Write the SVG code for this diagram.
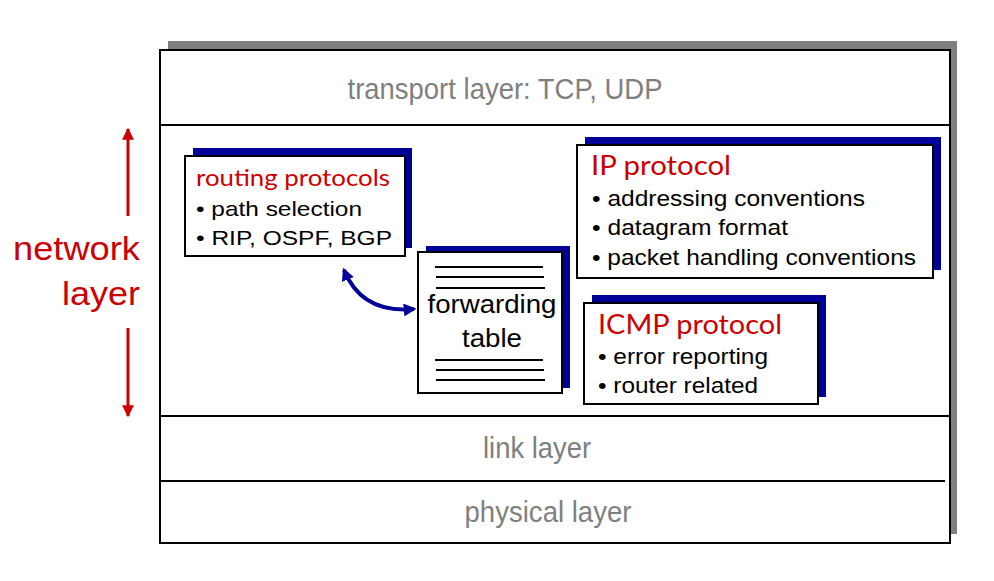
<svg xmlns="http://www.w3.org/2000/svg" width="994" height="581" viewBox="0 0 994 581">
<defs>
<style>
.layer{font-family:"Liberation Sans",Arial,sans-serif;font-size:29px;fill:#7f7f7f;text-anchor:middle}
.box{fill:#fff;stroke:#000;stroke-width:2}
.shadow{fill:#000099}
.title{font-family:Lato,"Open Sans",sans-serif;fill:#cc0000}
.body{font-family:"Liberation Sans",Arial,sans-serif;fill:#000}
.tline{stroke:#000;stroke-width:2}
.sep{stroke:#000;stroke-width:2}
</style>
<marker id="redHead" viewBox="0 0 10 10" refX="9" refY="5" markerWidth="4" markerHeight="4" orient="auto-start-reverse" markerUnits="strokeWidth">
<path d="M0,0 L10,5 L0,10 z" fill="#cc0000"/>
</marker>
<marker id="blueHead" viewBox="0 0 10 10" refX="8" refY="5" markerWidth="3.2" markerHeight="3.2" orient="auto-start-reverse" markerUnits="strokeWidth">
<path d="M0,0 L10,5 L0,10 z" fill="#000099"/>
</marker>
</defs>
<rect width="994" height="581" fill="#fff"/>

<g id="stack">
<rect x="168" y="41" width="789" height="493" fill="#808080"/>
<rect x="160" y="50" width="790" height="493" fill="#fff" stroke="#000" stroke-width="2"/>
<line class="sep" x1="160" y1="125" x2="950" y2="125"/>
<line class="sep" x1="160" y1="416" x2="950" y2="416"/>
<line class="sep" x1="160" y1="481" x2="945" y2="481"/>
</g>

<g id="transport">
<text class="layer" x="505" y="99" textLength="315" lengthAdjust="spacingAndGlyphs">transport layer: TCP, UDP</text>
</g>
<g id="link">
<text class="layer" x="537" y="458" textLength="108" lengthAdjust="spacingAndGlyphs">link layer</text>
</g>
<g id="physical">
<text class="layer" x="548" y="522" textLength="167" lengthAdjust="spacingAndGlyphs">physical layer</text>
</g>

<g id="network-label">
<text x="140" y="260" font-family="Liberation Sans,Arial,sans-serif" font-size="34" fill="#cc0000" text-anchor="end" textLength="127" lengthAdjust="spacingAndGlyphs">network</text>
<text x="140" y="305" font-family="Liberation Sans,Arial,sans-serif" font-size="34" fill="#cc0000" text-anchor="end" textLength="78" lengthAdjust="spacingAndGlyphs">layer</text>
</g>

<g id="routing">
<rect class="shadow" x="193" y="148" width="219" height="100"/>
<rect class="box" x="185" y="156" width="220" height="100"/>
<text class="title" x="196" y="186" font-size="23" textLength="194" lengthAdjust="spacingAndGlyphs">routing protocols</text>
<text class="body" x="196" y="216" font-size="21" textLength="166" lengthAdjust="spacingAndGlyphs">• path selection</text>
<text class="body" x="196" y="245" font-size="21" textLength="196" lengthAdjust="spacingAndGlyphs">• RIP, OSPF, BGP</text>
</g>

<g id="forwarding">
<rect class="shadow" x="426" y="246" width="144" height="142"/>
<rect class="box" x="418" y="252" width="144" height="141"/>
<line class="tline" x1="435" y1="267" x2="543" y2="267"/>
<line class="tline" x1="436" y1="277" x2="544" y2="277"/>
<line class="tline" x1="436" y1="288" x2="545" y2="288"/>
<line class="tline" x1="435" y1="360" x2="543" y2="360"/>
<line class="tline" x1="436" y1="370" x2="544" y2="370"/>
<line class="tline" x1="436" y1="380" x2="545" y2="380"/>
<text class="body" x="492" y="313" font-size="25" text-anchor="middle" textLength="129" lengthAdjust="spacingAndGlyphs">forwarding</text>
<text class="body" x="492" y="347" font-size="25" text-anchor="middle" textLength="60" lengthAdjust="spacingAndGlyphs">table</text>
</g>

<g id="ip">
<rect class="shadow" x="585" y="137" width="356" height="133"/>
<rect class="box" x="577" y="145" width="356" height="133"/>
<text class="title" x="591" y="175" font-size="27" textLength="140" lengthAdjust="spacingAndGlyphs">IP protocol</text>
<text class="body" x="592" y="206" font-size="22" textLength="273" lengthAdjust="spacingAndGlyphs">• addressing conventions</text>
<text class="body" x="592" y="235" font-size="22" textLength="196" lengthAdjust="spacingAndGlyphs">• datagram format</text>
<text class="body" x="592" y="265" font-size="22" textLength="324" lengthAdjust="spacingAndGlyphs">• packet handling conventions</text>
</g>

<g id="icmp">
<rect class="shadow" x="592" y="295" width="234" height="102"/>
<rect class="box" x="584" y="303" width="234" height="101"/>
<text class="title" x="598" y="334" font-size="27" textLength="184" lengthAdjust="spacingAndGlyphs">ICMP protocol</text>
<text class="body" x="598" y="364" font-size="22" textLength="170" lengthAdjust="spacingAndGlyphs">• error reporting</text>
<text class="body" x="598" y="393" font-size="22" textLength="160" lengthAdjust="spacingAndGlyphs">• router related</text>
</g>

<g id="connectors">
<line x1="128" y1="216" x2="128" y2="129" stroke="#cc0000" stroke-width="3" marker-end="url(#redHead)"/>
<line x1="128" y1="328" x2="128" y2="416" stroke="#cc0000" stroke-width="3" marker-end="url(#redHead)"/>
<path d="M344 270 Q362 314 414 309" fill="none" stroke="#000099" stroke-width="4" marker-start="url(#blueHead)" marker-end="url(#blueHead)"/>
</g>
</svg>
